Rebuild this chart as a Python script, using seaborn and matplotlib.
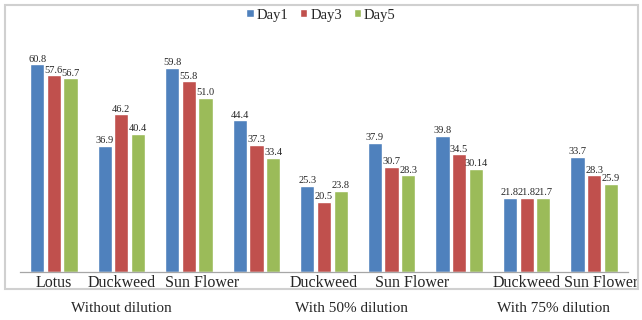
import matplotlib
matplotlib.use("Agg")
import matplotlib.pyplot as plt
import matplotlib.patches as mpatches
import matplotlib.transforms as mtransforms
import seaborn as sns
import pandas as pd

# valeurs
plantes = ["Lotus", "Duckweed", "Sun Flower", "", "Duckweed", "Sun Flower", "", "Duckweed", "Sun Flower"]
day1 = [60.8, 36.9, 59.8, 44.4, 25.3, 37.9, 39.8, 21.8, 33.7]
day3 = [57.6, 46.2, 55.8, 37.3, 20.5, 30.7, 34.5, 21.8, 28.3]
day5 = [56.7, 40.4, 51.0, 33.4, 23.8, 28.3, 30.14, 21.7, 25.9]
jours = ["Day1", "Day3", "Day5"]
traitements = ["Without dilution", "With 50% dilution", "With 75% dilution"]
couleurs = ["#4F81BD", "#C0504D", "#9BBB59"]

rows = []
for jour, vals in zip(jours, [day1, day3, day5]):
    for i, v in enumerate(vals):
        rows.append({"groupe": f"g{i}", "jour": jour, "valeur": v})
df = pd.DataFrame(rows)

sns.set_style("white")
plt.rcParams["font.family"] = ["Liberation Serif", "DejaVu Serif"]

fig = plt.figure(figsize=(6.42, 3.2), dpi=100)
ax = fig.add_axes([20 / 642, 1 - 272 / 320, 608 / 642, 239 / 320])

sns.barplot(data=df, x="groupe", y="valeur", hue="jour", palette=couleurs,
            width=0.74, gap=0.15, saturation=1, ax=ax)

for cont, vals in zip(ax.containers, [day1, day3, day5]):
    ax.bar_label(cont, labels=[str(v) for v in vals], fontsize=7.5, padding=0.5)

ax.set_xlim(-0.5, 8.5)
ax.set_ylim(0, 70)
ax.set_yticks([])
# les libelles "Sun Flower" sont un peu decales vers la droite dans l'original
ax.set_xticks([0, 1, 2.2, 3, 4, 5.3, 6, 7, 8.1])
ax.set_xticklabels(plantes, fontsize=11.5)
ax.tick_params(axis="x", length=0, pad=2)
ax.set_xlabel("")
ax.set_ylabel("")
for s in ["top", "right", "left"]:
    ax.spines[s].set_visible(False)
ax.spines["bottom"].set_color("#A6A6A6")
ax.spines["bottom"].set_linewidth(0.9)

# cadre du graphique
fig.patches.append(mpatches.Rectangle((5 / 642, 1 - 289 / 320), 633 / 642, 284 / 320,
                                      transform=fig.transFigure, fill=False,
                                      edgecolor="#D0D0D0", linewidth=1.5))

# libelles des traitements
trans = mtransforms.blended_transform_factory(ax.transData, fig.transFigure)
for xpos, t in zip([1, 4.4, 7.4], traitements):
    fig.text(xpos, 1 - 308 / 320, t, transform=trans, ha="center", va="center", fontsize=11)

ax.legend(loc="center", bbox_to_anchor=(0.5, 1 - 15 / 320), bbox_transform=fig.transFigure,
          ncol=3, frameon=False, fontsize=10.5, handlelength=0.5, handleheight=0.5,
          handletextpad=0.2, columnspacing=0.8, borderaxespad=0)

fig.savefig("out.png", dpi=100)
